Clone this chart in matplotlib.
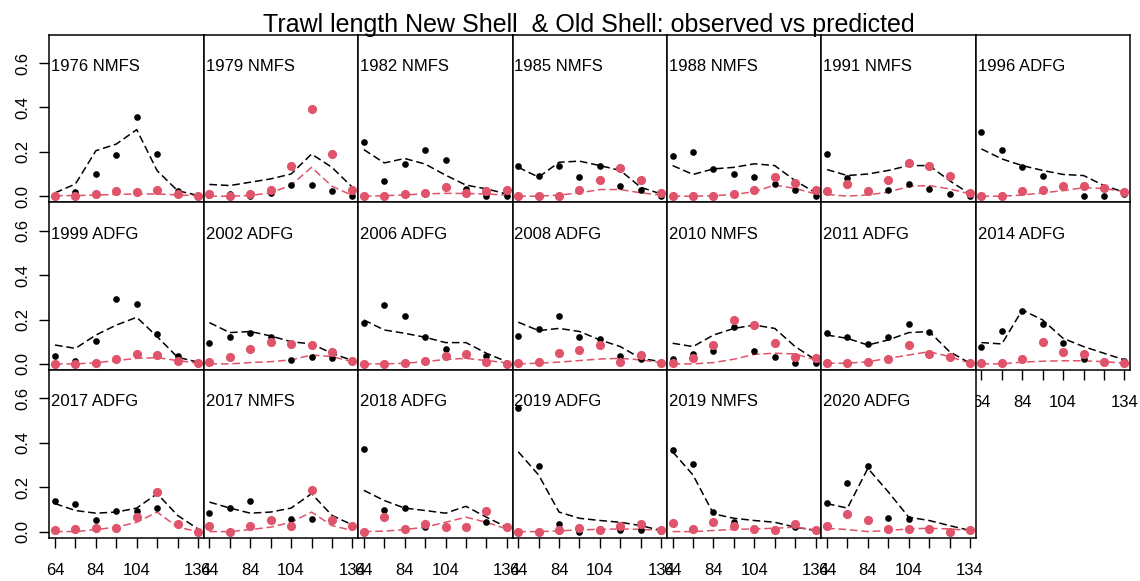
import numpy as np
import matplotlib
matplotlib.use("Agg")
from matplotlib import pyplot as plt

plt.rcParams['font.family'] = ['Liberation Sans', 'DejaVu Sans']

# length bins (mm)
lengths = [64, 74, 84, 94, 104, 114, 124, 134]
xlabs = ['64', '', '84', '', '104', '', '', '134']

panels = ['1976 NMFS', '1979 NMFS', '1982 NMFS', '1985 NMFS', '1988 NMFS',
          '1991 NMFS', '1996 ADFG', '1999 ADFG', '2002 ADFG', '2006 ADFG',
          '2008 ADFG', '2010 NMFS', '2011 ADFG', '2014 ADFG', '2017 ADFG',
          '2017 NMFS', '2018 ADFG', '2019 ADFG', '2019 NMFS', '2020 ADFG']

# new shell (black)
new_obs = [
    [0.0, 0.02, 0.10, 0.185, 0.355, 0.19, 0.025, 0.0],
    [0.005, 0.01, 0.003, 0.013, 0.05, 0.05, 0.025, 0.003],
    [0.244, 0.07, 0.146, 0.206, 0.161, 0.033, 0.0, 0.0],
    [0.138, 0.093, 0.138, 0.086, 0.138, 0.044, 0.026, 0.0],
    [0.183, 0.2, 0.123, 0.10, 0.086, 0.056, 0.029, 0.0],
    [0.19, 0.083, 0.02, 0.026, 0.056, 0.033, 0.01, 0.0],
    [0.289, 0.206, 0.131, 0.093, 0.045, 0.003, 0.003, 0.01],
    [0.036, 0.013, 0.103, 0.291, 0.268, 0.133, 0.036, 0.003],
    [0.093, 0.123, 0.138, 0.12, 0.018, 0.033, 0.025, 0.015],
    [0.183, 0.265, 0.216, 0.12, 0.066, 0.04, 0.036, 0.0],
    [0.126, 0.156, 0.216, 0.12, 0.111, 0.036, 0.021, 0.003],
    [0.021, 0.045, 0.058, 0.168, 0.06, 0.03, 0.006, 0.006],
    [0.138, 0.123, 0.09, 0.123, 0.18, 0.146, 0.03, 0.003],
    [0.078, 0.148, 0.238, 0.178, 0.093, 0.021, 0.008, 0.013],
    [0.136, 0.123, 0.053, 0.091, 0.095, 0.106, 0.035, 0.0],
    [0.085, 0.106, 0.136, 0.05, 0.055, 0.055, 0.05, 0.027],
    [0.371, 0.098, 0.108, 0.02, 0.02, 0.02, 0.042, 0.02],
    [0.558, 0.297, 0.035, 0.0, 0.01, 0.005, 0.005, 0.003],
    [0.368, 0.303, 0.088, 0.042, 0.012, 0.01, 0.02, 0.005],
    [0.13, 0.22, 0.297, 0.062, 0.055, 0.012, 0.0, 0.005],
]
new_pred = [
    [0.015, 0.055, 0.205, 0.235, 0.30, 0.115, 0.025, 0.003],
    [0.053, 0.048, 0.063, 0.078, 0.10, 0.19, 0.13, 0.04],
    [0.21, 0.15, 0.17, 0.145, 0.095, 0.05, 0.033, 0.01],
    [0.13, 0.086, 0.153, 0.158, 0.138, 0.116, 0.04, 0.01],
    [0.138, 0.098, 0.123, 0.13, 0.146, 0.138, 0.07, 0.015],
    [0.12, 0.093, 0.10, 0.116, 0.138, 0.138, 0.07, 0.01],
    [0.213, 0.168, 0.138, 0.116, 0.098, 0.093, 0.048, 0.018],
    [0.085, 0.07, 0.13, 0.175, 0.21, 0.123, 0.03, 0.008],
    [0.186, 0.141, 0.146, 0.126, 0.10, 0.09, 0.048, 0.015],
    [0.198, 0.153, 0.138, 0.12, 0.096, 0.096, 0.048, 0.01],
    [0.188, 0.15, 0.16, 0.146, 0.108, 0.078, 0.025, 0.01],
    [0.093, 0.078, 0.13, 0.16, 0.175, 0.16, 0.078, 0.018],
    [0.13, 0.115, 0.085, 0.108, 0.141, 0.146, 0.055, 0.003],
    [0.096, 0.09, 0.243, 0.198, 0.115, 0.078, 0.048, 0.018],
    [0.126, 0.095, 0.083, 0.088, 0.106, 0.171, 0.073, 0.012],
    [0.133, 0.106, 0.083, 0.088, 0.106, 0.171, 0.073, 0.03],
    [0.186, 0.14, 0.106, 0.095, 0.083, 0.114, 0.065, 0.02],
    [0.36, 0.255, 0.088, 0.06, 0.05, 0.042, 0.027, 0.005],
    [0.36, 0.255, 0.08, 0.06, 0.05, 0.042, 0.02, 0.005],
    [0.126, 0.106, 0.285, 0.179, 0.065, 0.05, 0.027, 0.005],
]
# old shell (red)
old_obs = [
    [0.0, 0.0, 0.008, 0.022, 0.02, 0.03, 0.008, 0.0],
    [0.008, 0.0, 0.008, 0.03, 0.135, 0.395, 0.19, 0.03],
    [0.0, 0.0, 0.008, 0.013, 0.04, 0.015, 0.022, 0.03],
    [0.0, 0.0, 0.003, 0.026, 0.074, 0.128, 0.074, 0.015],
    [0.0, 0.0, 0.0, 0.01, 0.03, 0.086, 0.06, 0.03],
    [0.022, 0.053, 0.022, 0.075, 0.149, 0.134, 0.09, 0.013],
    [0.0, 0.0, 0.022, 0.03, 0.045, 0.048, 0.038, 0.021],
    [0.0, 0.0, 0.003, 0.022, 0.045, 0.038, 0.015, 0.003],
    [0.008, 0.033, 0.068, 0.098, 0.09, 0.083, 0.054, 0.015],
    [0.0, 0.0, 0.003, 0.015, 0.037, 0.043, 0.01, 0.0],
    [0.003, 0.009, 0.048, 0.063, 0.085, 0.01, 0.04, 0.003],
    [0.003, 0.025, 0.085, 0.2, 0.175, 0.093, 0.03, 0.025],
    [0.003, 0.003, 0.01, 0.022, 0.083, 0.045, 0.03, 0.003],
    [0.003, 0.003, 0.022, 0.098, 0.052, 0.045, 0.008, 0.003],
    [0.005, 0.012, 0.015, 0.015, 0.065, 0.179, 0.035, 0.0],
    [0.027, 0.0, 0.027, 0.05, 0.027, 0.186, 0.05, 0.027],
    [0.0, 0.065, 0.012, 0.035, 0.02, 0.02, 0.095, 0.02],
    [0.0, 0.0, 0.005, 0.015, 0.008, 0.024, 0.032, 0.005],
    [0.038, 0.012, 0.045, 0.024, 0.012, 0.005, 0.035, 0.005],
    [0.023, 0.08, 0.05, 0.012, 0.012, 0.012, 0.0, 0.005],
]
old_pred = [
    [0.002, 0.003, 0.005, 0.008, 0.01, 0.01, 0.006, 0.002],
    [0.0, 0.0, 0.003, 0.015, 0.05, 0.13, 0.045, 0.003],
    [0.0, 0.002, 0.006, 0.01, 0.013, 0.012, 0.01, 0.005],
    [0.0, 0.0, 0.005, 0.015, 0.03, 0.03, 0.015, 0.005],
    [0.0, 0.0, 0.002, 0.008, 0.02, 0.05, 0.035, 0.01],
    [0.008, 0.0, 0.006, 0.018, 0.044, 0.048, 0.033, 0.01],
    [0.0, 0.0, 0.005, 0.015, 0.025, 0.038, 0.035, 0.02],
    [0.0, 0.0, 0.005, 0.015, 0.025, 0.028, 0.015, 0.003],
    [0.0, 0.0, 0.006, 0.01, 0.018, 0.04, 0.033, 0.01],
    [0.0, 0.0, 0.003, 0.01, 0.02, 0.025, 0.015, 0.005],
    [0.0, 0.003, 0.008, 0.015, 0.022, 0.025, 0.018, 0.005],
    [0.0, 0.0, 0.006, 0.021, 0.043, 0.048, 0.045, 0.018],
    [0.003, 0.003, 0.01, 0.025, 0.04, 0.055, 0.033, 0.003],
    [0.0, 0.0, 0.008, 0.012, 0.014, 0.014, 0.01, 0.003],
    [0.0, 0.0, 0.009, 0.02, 0.042, 0.088, 0.02, 0.0],
    [0.0, 0.0, 0.009, 0.02, 0.042, 0.088, 0.027, 0.005],
    [0.0, 0.002, 0.009, 0.02, 0.042, 0.065, 0.042, 0.012],
    [0.0, 0.0, 0.003, 0.008, 0.01, 0.012, 0.01, 0.005],
    [0.0, 0.0, 0.005, 0.01, 0.012, 0.015, 0.02, 0.008],
    [0.015, 0.009, 0.0, 0.005, 0.012, 0.015, 0.012, 0.005],
]

red = '#DF536B'
W, H = 1140, 581
fig = plt.figure(figsize=(W/100, H/100), dpi=100)

x0, y0, pw, ph = 49.3, 34.7, 154.4, 167.7
ncol = 7
for i, name in enumerate(panels):
    r, c = divmod(i, ncol)
    ax = fig.add_axes([(x0 + c*pw)/W, 1 - (y0 + (r+1)*ph)/H, pw/W, ph/H])
    ax.plot(lengths, new_pred[i], color='black', ls=(0, (5, 2.5)), lw=1.1)
    ax.plot(lengths, old_pred[i], color=red, ls=(0, (5, 2.5)), lw=1.1)
    ax.plot(lengths, new_obs[i], 'o', color='black', ms=4.8, mec='none')
    ax.plot(lengths, old_obs[i], 'o', color=red, ms=6.6, mec='none')
    ax.set_xlim(61.2, 136.8)
    ax.set_ylim(-0.028, 0.728)
    ax.text(0.012, 0.585, name, transform=ax.get_yaxis_transform(),
            ha='left', va='center', fontsize=12)
    for s in ax.spines.values():
        s.set_linewidth(1.1)
    if c == 0:
        ax.set_yticks([0, 0.2, 0.4, 0.6])
        ax.set_yticklabels(['0.0', '0.2', '0.4', '0.6'], rotation=90, va='center')
        ax.tick_params(axis='y', length=7, width=1, pad=6.5, labelsize=12)
    else:
        ax.set_yticks([])
    last_in_col = (r == 2) or (r == 1 and c == 6)
    if last_in_col:
        ax.set_xticks(lengths)
        ax.set_xticklabels(xlabs)
        ax.tick_params(axis='x', length=7, width=1, pad=11, labelsize=12)
    else:
        ax.set_xticks([])

fig.text(589/W, 1 - 31.7/H, 'Trawl length New Shell  & Old Shell: observed vs predicted',
         ha='center', va='baseline', fontsize=18)

fig.savefig('out.png', dpi=100)
